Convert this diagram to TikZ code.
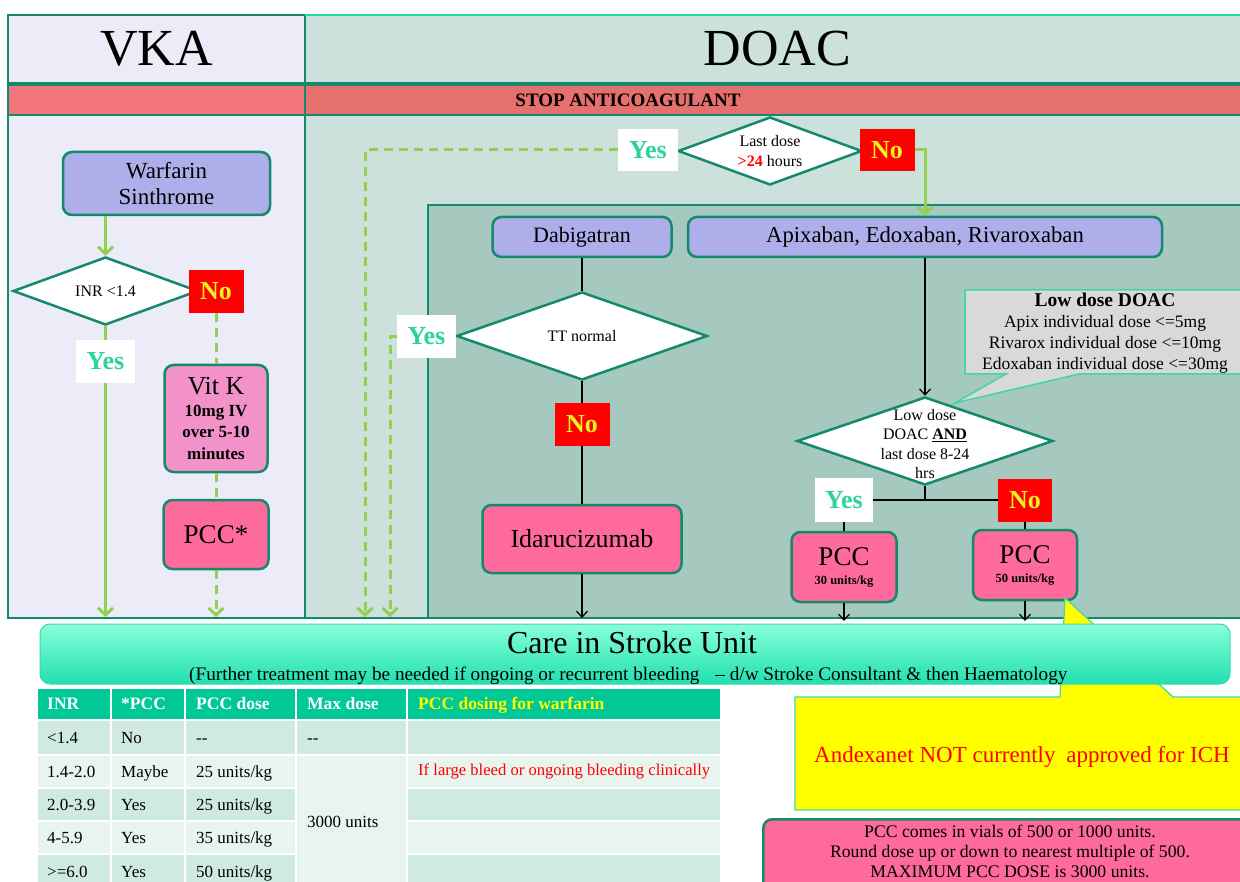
\documentclass[tikz,border=0pt]{standalone}
\usepackage{fontspec}
\setmainfont{Liberation Serif}
\usetikzlibrary{shapes.geometric,arrows.meta,calc}
\definecolor{frameG}{HTML}{14896B}
\definecolor{brightG}{HTML}{22D6A6}
\definecolor{vkaF}{HTML}{ECECF8}
\definecolor{doacF}{HTML}{CCE1DC}
\definecolor{innerF}{HTML}{A5C8BF}
\definecolor{redL}{HTML}{F3767C}
\definecolor{redR}{HTML}{E5706E}
\definecolor{lavF}{HTML}{AEAEEB}
\definecolor{vitF}{HTML}{F292C8}
\definecolor{pccF}{HTML}{FF6A9C}
\definecolor{arrG}{HTML}{92D050}
\definecolor{yesT}{HTML}{2ED39A}
\definecolor{noF}{HTML}{FF0000}
\definecolor{noT}{HTML}{E8F21E}
\definecolor{careT}{HTML}{88FFDA}
\definecolor{careB}{HTML}{20E0B0}
\definecolor{thF}{HTML}{00C896}
\definecolor{rowD}{HTML}{CFEBE1}
\definecolor{rowL}{HTML}{E8F5EF}
\definecolor{calG}{HTML}{D9D9D9}
\definecolor{calE}{HTML}{3ED8A8}
\definecolor{andY}{HTML}{FFFF00}
\definecolor{andR}{HTML}{FF0000}
\newcommand\myfs[2]{\fontsize{#1}{#2}\selectfont}
\begin{document}
\begin{tikzpicture}[x=1pt,y=-1pt,
  rbox/.style={draw=frameG, line width=2.5pt, rounded corners=9pt, align=center, inner sep=0pt},
  dia/.style={diamond, draw=frameG, line width=2.5pt, fill=white, inner sep=0pt},
  yesb/.style={fill=white, text=yesT, font=\bfseries\myfs{26}{28}, inner sep=0pt},
  nob/.style={fill=noF, text=noT, font=\bfseries\myfs{26}{28}, inner sep=0pt},
  gline/.style={draw=arrG, line width=3pt},
  garr/.style={gline, -{Straight Barb[length=7pt,width=15pt]}},
  gdl/.style={gline, dash pattern=on 9pt off 6pt},
  gdash/.style={garr, dash pattern=on 9pt off 6pt},
  bline/.style={draw=black, line width=1.2pt},
  barr/.style={bline, -{Straight Barb[length=6pt,width=11pt]}},
  hdr/.style={draw=frameG, line width=2.5pt, inner sep=0pt},
  tcell/.style={draw=white, line width=2pt},
  ttxt/.style={anchor=base west, inner sep=0pt, font=\myfs{17}{20}},
  thtxt/.style={anchor=base west, inner sep=0pt, font=\bfseries\myfs{17.5}{20}, text=white}
]
\useasboundingbox (0,0) rectangle (1240,882);
\clip (0,0) rectangle (1240,882);

% ---------- frame ----------
\path[fill=vkaF, draw=frameG, line width=2.5pt] (8,115) rectangle (305,618);
\path[fill=doacF, draw=frameG, line width=2.5pt] (305,115) rectangle (1250,618);
\path[fill=innerF, draw=frameG, line width=2.5pt] (428,205) rectangle (1250,618);
\node[hdr, fill=vkaF, minimum width=297, minimum height=68, font=\myfs{52}{54}] (vkah) at (156.5,49) {VKA};
\node[hdr, fill=doacF, minimum width=945, minimum height=68, font=\myfs{52}{54}] (doach) at (777.5,49) {DOAC};
\draw[brightG, line width=2.5pt] (305,15) -- (1250,15);
\node[hdr, fill=redL, minimum width=297, minimum height=30] (redl) at (156.5,100) {};
\node[hdr, fill=redR, minimum width=945, minimum height=30] (redr) at (777.5,100) {};
\node[font=\bfseries\myfs{19}{21}, inner sep=0pt] (stop) at (628,100) {STOP ANTICOAGULANT};

% ---------- VKA column ----------
\node[rbox, fill=lavF, minimum width=207, minimum height=63, font=\myfs{23}{26}] (warf) at (166.5,183.5) {Warfarin\\Sinthrome};
\node[dia, minimum width=185, minimum height=68] (inr) at (105.5,291) {};
\node[font=\myfs{16}{18}] (inrt) at (inr) {INR <1.4};
\node[nob, minimum width=55, minimum height=43] (no1) at (216,291.5) {No};
\node[yesb, minimum width=59, minimum height=43] (yes1) at (105.5,361.5) {Yes};
\node[rbox, fill=vitF, minimum width=103, minimum height=107, font=\bfseries\myfs{17}{21.5}] (vitk) at (216,418.5) {{\mdseries\myfs{26}{21.5}Vit K}\\10mg IV\\over 5-10\\minutes};
\node[rbox, fill=pccF, minimum width=105, minimum height=69, font=\myfs{27}{29}] (pccs) at (216,534.5) {PCC*};
\coordinate (e1) at (105.5,617);
\coordinate (e2) at (216,617);
\draw[garr] (warf.south -| inr.north) -- (inr.north);
\draw[gline] (inr.south) -- (yes1.north);
\draw[garr] (yes1.south) -- (e1);
\draw[gdl] (no1.south) -- (vitk.north);
\draw[gdl] (vitk.south) -- (pccs.north);
\draw[gdash] (pccs.south) -- (e2);

% ---------- DOAC top ----------
\node[dia, minimum width=184, minimum height=68] (d2) at (770,151) {};
\node[font=\myfs{16}{20}, align=center] (d2t) at (d2) {Last dose\\{\color{red}\bfseries >24} hours};
\node[yesb, minimum width=60, minimum height=42] (yes2) at (648,150) {Yes};
\node[nob, minimum width=55, minimum height=42] (no2) at (887,150) {No};
\node[rbox, fill=lavF, minimum width=179, minimum height=40, font=\myfs{22}{24}] (dab) at (582,237) {Dabigatran};
\node[rbox, fill=lavF, minimum width=474, minimum height=40, font=\myfs{22.7}{24}] (apx) at (925,237) {Apixaban, Edoxaban, Rivaroxaban};
\coordinate (e3) at (365,617);
\draw[gdash] (yes2.west) -| (e3);
\draw[garr] (no2.east) -| (apx.north);

% ---------- Dabigatran branch ----------
\node[dia, minimum width=251, minimum height=88] (tt) at (582,336) {};
\node[font=\myfs{16}{18}] (ttt) at (tt) {TT normal};
\node[yesb, minimum width=59, minimum height=43] (yes3) at (426.5,336.5) {Yes};
\node[nob, minimum width=55, minimum height=43] (no3) at (582,424.5) {No};
\node[rbox, fill=pccF, minimum width=199, minimum height=68, font=\myfs{26}{28}] (ida) at (582,539) {Idarucizumab};
\coordinate (e4) at (390,617);
\coordinate (e5) at (582,618);
\draw[gdash] (yes3.west) -| (e4);
\draw[bline] (dab.south) -- (tt.north);
\draw[bline] (tt.south) -- (no3.north);
\draw[bline] (no3.south) -- (ida.north);
\draw[barr] (ida.south) -- (e5);

% ---------- Xa branch ----------
\node[dia, minimum width=256, minimum height=88] (ld) at (925,441) {};
\node[font=\myfs{16}{19.5}, align=center] (ldt) at (925,444) {Low dose\\DOAC \underline{\textbf{AND}}\\last dose 8-24\\hrs};
\node[yesb, minimum width=58, minimum height=44] (yes4) at (844,500) {Yes};
\node[nob, minimum width=54, minimum height=43] (no4) at (1025,500) {No};
\node[rbox, fill=pccF, minimum width=105, minimum height=70, font=\myfs{27}{19}] (pcc30) at (844,567) {PCC\\{\bfseries\myfs{12.5}{19}30 units/kg}};
\node[rbox, fill=pccF, minimum width=104, minimum height=70, font=\myfs{27}{19}] (pcc50) at (1025,565) {PCC\\{\bfseries\myfs{12.5}{19}50 units/kg}};
\coordinate (j) at (925,500);
\coordinate (e6) at (844,621);
\coordinate (e7) at (1025,621);
\draw[barr] (apx.south) -- (ld.north);
\draw[bline] (ld.south) -- (j);
\draw[bline] (yes4.east) -- (no4.west);
\draw[bline] (yes4.south) -- (pcc30.north);
\draw[bline] (no4.south) -- (pcc50.north);
\draw[barr] (pcc30.south) -- (e6);
\draw[barr] (pcc50.south) -- (e7);

% gray callout
\path[fill=calG, draw=calE, line width=1.5pt] (965,290) -- (1250,290) -- (1250,374) -- (1079,374) -- (955,403) -- (1006,374) -- (965,374) -- cycle;
\node[font=\myfs{17.5}{21}, align=center, inner sep=0pt] (lowdoac) at (1105,333) {{\bfseries\myfs{19.5}{21}Low dose DOAC}\\Apix individual dose <=5mg\\Rivarox individual dose <=10mg\\Edoxaban individual dose <=30mg};

% ---------- yellow callout ----------
\path[fill=andY, draw=calE, line width=1.2pt] (795,697) -- (1060,697) -- (1065,598) -- (1173,697) -- (1250,697) -- (1250,810) -- (795,810) -- cycle;
\node[font=\myfs{23}{25}, text=andR, anchor=base, inner sep=0pt] (andex) at (1022,762) {Andexanet NOT currently\hspace{5pt} approved for ICH};

% ---------- care box ----------
\node[rounded corners=10pt, draw=calE, line width=1pt, top color=careT, bottom color=careB, minimum width=1190, minimum height=60, inner sep=0pt] (care) at (635,654) {};
\node[font=\myfs{32}{34}, anchor=base, inner sep=0pt] (caret) at (632,653) {Care in Stroke Unit};
\node[font=\myfs{19.2}{21}, anchor=base west, inner sep=0pt] (cares) at (189,680) {(Further treatment may be needed if ongoing or recurrent bleeding\hspace{16pt}– d/w Stroke Consultant \& then Haematology};

% ---------- table ----------
\foreach \xa/\xb in {37/111,111/185,185/296,296/407,407/721}
  \path[fill=thF, tcell] (\xa,688) rectangle (\xb,720);
\foreach \ya/\yb/\cl in {720/755/rowD, 755/788/rowL, 788/821/rowD, 821/854/rowL, 854/890/rowD}{
  \foreach \xa/\xb in {37/111,111/185,185/296,407/721}
    \path[fill=\cl, tcell] (\xa,\ya) rectangle (\xb,\yb);
}
\path[fill=rowD, tcell] (296,720) rectangle (407,755);
\path[fill=rowL, tcell] (296,755) rectangle (407,890);
\node[thtxt] (h1) at (47,709) {INR};
\node[thtxt] (h2) at (121,709) {*PCC};
\node[thtxt] (h3) at (196,709) {PCC dose};
\node[thtxt] (h4) at (307,709) {Max dose};
\node[thtxt, text=andY] (h5) at (418,709) {PCC dosing for warfarin};
\node[ttxt] (a1) at (47,743) {<1.4};
\node[ttxt] (a2) at (121,743) {No};
\node[ttxt] (a3) at (196,743) {-{}-};
\node[ttxt] (a4) at (307,743) {-{}-};
\node[ttxt] (b1) at (47,777) {1.4-2.0};
\node[ttxt] (b2) at (121,777) {Maybe};
\node[ttxt] (b3) at (196,777) {25 units/kg};
\node[ttxt, font=\myfs{16.6}{18}, text=andR] (b5) at (418,775) {If large bleed or ongoing bleeding clinically};
\node[ttxt] (c1) at (47,810) {2.0-3.9};
\node[ttxt] (c2) at (121,810) {Yes};
\node[ttxt] (c3) at (196,810) {25 units/kg};
\node[ttxt] (mx) at (307,827) {3000 units};
\node[ttxt] (d1) at (47,843) {4-5.9};
\node[ttxt] (d2r) at (121,843) {Yes};
\node[ttxt] (d3) at (196,843) {35 units/kg};
\node[ttxt] (f1) at (47,877) {>=6.0};
\node[ttxt] (f2) at (121,877) {Yes};
\node[ttxt] (f3) at (196,877) {50 units/kg};

% ---------- PCC info ----------
\node[rbox, fill=pccF, minimum width=490, minimum height=80, anchor=north west] (info) at (762,818) {};
\node[font=\myfs{17.7}{20}, align=center, inner sep=0pt] (infot) at (1010,851) {PCC comes in vials of 500 or 1000 units.\\Round dose up or down to nearest multiple of 500.\\MAXIMUM PCC DOSE is 3000 units.};
\end{tikzpicture}
\end{document}
